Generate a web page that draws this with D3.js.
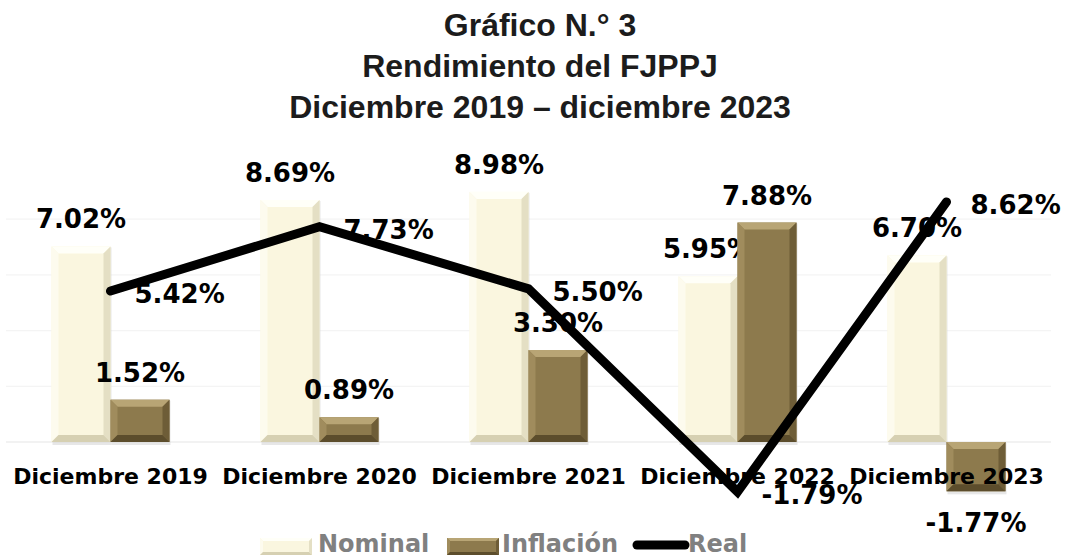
<!DOCTYPE html>
<html>
<head>
<meta charset="utf-8">
<script src="https://cdn.jsdelivr.net/npm/d3@7"></script>
<style>
  html, body { margin: 0; padding: 0; background: #fff; }
  svg { display: block; }
  .title { font-family: "Liberation Sans", Arial, sans-serif; font-weight: bold; font-size: 32px; fill: #1c1c1c; }
  .lbl { font-family: "DejaVu Sans", sans-serif; font-weight: bold; font-size: 26px; fill: #000; }
  .cat { font-family: "DejaVu Sans", sans-serif; font-weight: bold; font-size: 22px; fill: #000; }
  .leg { font-family: "DejaVu Sans", sans-serif; font-weight: bold; font-size: 24px; fill: #808080; }
</style>
</head>
<body>
<svg id="chart" width="1069" height="558"></svg>
<script>
// datos del gráfico
const categories = ["Diciembre 2019", "Diciembre 2020", "Diciembre 2021", "Diciembre 2022", "Diciembre 2023"];
const series = ["Nominal", "Inflación"];
const nominal = [7.02, 8.69, 8.98, 5.95, 6.70];
const inflacion = [1.52, 0.89, 3.30, 7.88, -1.77];
const real = [5.42, 7.73, 5.50, -1.79, 8.62];
const gridTicks = [0, 2, 4, 6, 8];
const titleLines = ["Gráfico N.° 3", "Rendimiento del FJPPJ", "Diciembre 2019 – diciembre 2023"];

const fmt = v => v.toFixed(2) + "%";

const svg = d3.select("#chart");

// escalas
const x0 = d3.scaleBand().domain(categories).range([6, 1051]).padding(0);
const x1 = d3.scaleBand().domain(series)
    .range([x0.bandwidth() / 2 - 59, x0.bandwidth() / 2 + 59]).padding(0);
const baseY = 442, k = 27.85;
const y = d3.scaleLinear().domain([-2, 8]).range([baseY + 2 * k, baseY - 8 * k]);

// título
svg.append("g").selectAll("text")
    .data(titleLines)
    .enter().append("text")
    .attr("class", "title")
    .attr("x", 540)
    .attr("y", (d, i) => 36 + i * 41)
    .attr("text-anchor", "middle")
    .text(d => d);

// líneas de cuadrícula muy tenues
svg.append("g").selectAll("line")
    .data(gridTicks)
    .enter().append("line")
    .attr("x1", 6).attr("x2", 1051)
    .attr("y1", d => y(d)).attr("y2", d => y(d))
    .attr("stroke", d => d === 0 ? "#e6e6e6" : "#f4f4f4")
    .attr("stroke-width", 1.2);

// colores con efecto bisel
const pal = {
    "Nominal": { base: "#FAF6DF", top: "#FFFFF8", left: "#FDFBEE", right: "#E4DFC4", bottom: "#D6D0B2" },
    "Inflación": { base: "#8D7A4D", top: "#B8A575", left: "#A08C5D", right: "#6E5D37", bottom: "#5C4D2C" }
};

const rows = categories.map((c, i) => ({ cat: c, values: [
    { s: "Nominal", v: nominal[i] },
    { s: "Inflación", v: inflacion[i] }
]}));

const groups = svg.append("g").selectAll("g")
    .data(rows)
    .enter().append("g")
    .attr("transform", d => `translate(${x0(d.cat)},0)`);

const bars = groups.selectAll("g.bar")
    .data(d => d.values)
    .enter().append("g")
    .attr("class", "bar");

function bevel(d) {
    const bx = x1(d.s), bw = x1.bandwidth();
    const ya = y(Math.max(0, d.v)), yb = y(Math.min(0, d.v));
    return { x: bx, w: bw, y0: ya, y1: yb, h: yb - ya, b: Math.min(7, (yb - ya) / 2) };
}

// sombra
bars.append("rect")
    .attr("x", d => bevel(d).x + 1)
    .attr("y", d => bevel(d).y0 + 1)
    .attr("width", d => bevel(d).w)
    .attr("height", d => bevel(d).h + 2)
    .attr("fill", "#cfcfcf")
    .attr("opacity", 0.5);

bars.append("rect")
    .attr("x", d => bevel(d).x)
    .attr("y", d => bevel(d).y0)
    .attr("width", d => bevel(d).w)
    .attr("height", d => bevel(d).h)
    .attr("fill", d => pal[d.s].base);

// caras del bisel
const faces = [
    { key: "top", pts: g => [[g.x, g.y0], [g.x + g.w, g.y0], [g.x + g.w - g.b, g.y0 + g.b], [g.x + g.b, g.y0 + g.b]] },
    { key: "left", pts: g => [[g.x, g.y0], [g.x + g.b, g.y0 + g.b], [g.x + g.b, g.y1 - g.b], [g.x, g.y1]] },
    { key: "right", pts: g => [[g.x + g.w, g.y0], [g.x + g.w, g.y1], [g.x + g.w - g.b, g.y1 - g.b], [g.x + g.w - g.b, g.y0 + g.b]] },
    { key: "bottom", pts: g => [[g.x, g.y1], [g.x + g.b, g.y1 - g.b], [g.x + g.w - g.b, g.y1 - g.b], [g.x + g.w, g.y1]] }
];
faces.forEach(f => {
    bars.append("polygon")
        .attr("points", d => f.pts(bevel(d)).map(p => p.join(",")).join(" "))
        .attr("fill", d => pal[d.s][f.key]);
});

// etiquetas de las barras
bars.append("text")
    .attr("class", "lbl")
    .attr("text-anchor", "middle")
    .attr("x", d => x1(d.s) + x1.bandwidth() / 2)
    .attr("y", d => d.v >= 0 ? y(d.v) - 18 : y(d.v) + 41)
    .text(d => fmt(d.v));

// etiquetas de categorías
svg.append("g").selectAll("text")
    .data(categories)
    .enter().append("text")
    .attr("class", "cat")
    .attr("text-anchor", "middle")
    .attr("x", d => x0(d) + x0.bandwidth() / 2)
    .attr("y", 484)
    .text(d => d);

// etiquetas de la serie Real
svg.append("g").selectAll("text")
    .data(real)
    .enter().append("text")
    .attr("class", "lbl")
    .attr("x", (d, i) => x0(categories[i]) + x0.bandwidth() / 2 + 24)
    .attr("y", d => y(d) + 12)
    .text(d => fmt(d));

// línea Real (encima de todo)
const line = d3.line()
    .x((d, i) => x0(categories[i]) + x0.bandwidth() / 2)
    .y(d => y(d));
svg.append("path")
    .datum(real)
    .attr("d", line)
    .attr("fill", "none")
    .attr("stroke", "#000")
    .attr("stroke-width", 9)
    .attr("stroke-linecap", "round")
    .attr("stroke-linejoin", "miter");

// leyenda
const leg = svg.append("g");
const legItems = [
    { name: "Nominal", type: "bar", x: 260, tx: 318 },
    { name: "Inflación", type: "bar", x: 447, tx: 502 },
    { name: "Real", type: "line", x: 633, tx: 688 }
];
legItems.forEach(it => {
    if (it.type === "bar") {
        const p = pal[it.name];
        const sw = { x: it.x, w: 52, y0: 538, y1: 555, b: 3 };
        leg.append("rect").attr("x", sw.x).attr("y", sw.y0).attr("width", sw.w).attr("height", sw.y1 - sw.y0).attr("fill", p.base);
        faces.forEach(f => {
            leg.append("polygon")
                .attr("points", f.pts(sw).map(q => q.join(",")).join(" "))
                .attr("fill", p[f.key]);
        });
    } else {
        leg.append("line").attr("x1", it.x + 4).attr("x2", it.x + 52).attr("y1", 545).attr("y2", 545)
            .attr("stroke", "#000").attr("stroke-width", 9).attr("stroke-linecap", "round");
    }
    leg.append("text").attr("class", "leg").attr("x", it.tx).attr("y", 552).text(it.name);
});
</script>
</body>
</html>
